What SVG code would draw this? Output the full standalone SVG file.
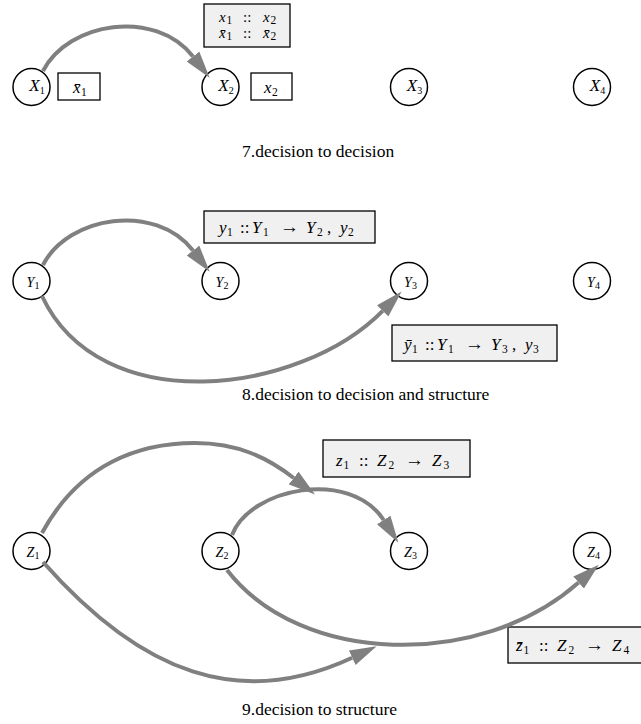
<svg xmlns="http://www.w3.org/2000/svg" width="641" height="724" viewBox="0 0 641 724">
<style>
.node circle{fill:#fff;stroke:#000;stroke-width:1.5}
.nl{font-family:"Liberation Serif","DejaVu Serif",serif;font-style:italic;fill:#000}
.nx{font-size:17px}
.ny{font-size:14px}
.ns{font-style:normal;font-size:10px}
.edge{fill:none;stroke:#808080;stroke-width:4;marker-end:url(#ah)}
.box{fill:#f0f0f0;stroke:#000;stroke-width:1.3}
.wbox{fill:#fff;stroke:#000;stroke-width:1.3}
.m{font-family:"Liberation Serif","DejaVu Serif",serif;font-size:17px;fill:#000}
.t{font-size:15px}
.i{font-style:italic}
.s{font-size:11.5px;font-style:normal}
.ar{font-size:19px}
.cap{font-family:"Liberation Serif","DejaVu Serif",serif;font-size:17.5px;fill:#000}
</style>
<defs>
<marker id="ah" viewBox="0 0 27 16" refX="0" refY="8" markerWidth="27" markerHeight="16" markerUnits="userSpaceOnUse" orient="auto">
<path d="M0,0 L27,8 L0,16 z" fill="#808080"/>
</marker>
</defs>

<!-- Row 7 -->
<g id="X1" class="node"><circle cx="31.5" cy="87" r="18.5"/><text class="nl nx" x="37" y="91" text-anchor="middle">X<tspan class="ns" dy="3">1</tspan></text></g>
<g id="X2" class="node"><circle cx="220.5" cy="87" r="18.5"/><text class="nl nx" x="226" y="91" text-anchor="middle">X<tspan class="ns" dy="3">2</tspan></text></g>
<g id="X3" class="node"><circle cx="409" cy="87" r="18.5"/><text class="nl nx" x="414.5" y="91" text-anchor="middle">X<tspan class="ns" dy="3">3</tspan></text></g>
<g id="X4" class="node"><circle cx="592" cy="87" r="18.5"/><text class="nl nx" x="597.5" y="91" text-anchor="middle">X<tspan class="ns" dy="3">4</tspan></text></g>

<g id="boxX1">
<rect class="wbox" x="58" y="73" width="42" height="27"/>
<text class="m" y="93"><tspan class="i" x="73">x̄</tspan><tspan class="s" x="81" dy="3">1</tspan></text>
</g>
<g id="boxX2">
<rect class="wbox" x="251" y="73" width="41" height="27"/>
<text class="m" y="93"><tspan class="i" x="264">x</tspan><tspan class="s" x="272" dy="3">2</tspan></text>
</g>
<g id="boxX12">
<rect class="box" x="204" y="4" width="86" height="43"/>
<text class="m t" y="22"><tspan class="i" x="219">x</tspan><tspan class="s" x="226.5" dy="2">1</tspan><tspan x="243" dy="-2">::</tspan><tspan class="i" x="263">x</tspan><tspan class="s" x="270.5" dy="2">2</tspan></text>
<text class="m t" y="38"><tspan class="i" x="219">x̄</tspan><tspan class="s" x="226.5" dy="2">1</tspan><tspan x="243" dy="-2">::</tspan><tspan class="i" x="263">x̄</tspan><tspan class="s" x="270.5" dy="2">2</tspan></text>
</g>
<text class="cap" x="242" y="157">7.decision to decision</text>

<!-- Row 8 -->
<g id="Y1" class="node"><circle cx="31.5" cy="281" r="18.5"/><text class="nl ny" x="33" y="287" text-anchor="middle">Y<tspan class="ns" dy="2">1</tspan></text></g>
<g id="Y2" class="node"><circle cx="220.5" cy="281" r="18.5"/><text class="nl ny" x="222" y="287" text-anchor="middle">Y<tspan class="ns" dy="2">2</tspan></text></g>
<g id="Y3" class="node"><circle cx="409" cy="281" r="18.5"/><text class="nl ny" x="410.5" y="287" text-anchor="middle">Y<tspan class="ns" dy="2">3</tspan></text></g>
<g id="Y4" class="node"><circle cx="592" cy="281" r="18.5"/><text class="nl ny" x="593.5" y="287" text-anchor="middle">Y<tspan class="ns" dy="2">4</tspan></text></g>

<g id="boxY12">
<rect class="box" x="204" y="211" width="171" height="32"/>
<text class="m" y="233"><tspan class="i" x="219">y</tspan><tspan class="s" x="227" dy="3">1</tspan><tspan x="240" dy="-3">::</tspan><tspan class="i" x="252">Y</tspan><tspan class="s" x="263" dy="3">1</tspan><tspan class="ar" x="280" dy="-3">→</tspan><tspan class="i" x="306">Y</tspan><tspan class="s" x="317" dy="3">2</tspan><tspan x="327" dy="-3">,</tspan><tspan class="i" x="340">y</tspan><tspan class="s" x="348" dy="3">2</tspan></text>
</g>
<g id="boxY13">
<rect class="box" x="392" y="325" width="165" height="36"/>
<text class="m" y="350"><tspan class="i" x="404">ȳ</tspan><tspan class="s" x="412" dy="3">1</tspan><tspan x="425" dy="-3">::</tspan><tspan class="i" x="437">Y</tspan><tspan class="s" x="448" dy="3">1</tspan><tspan class="ar" x="465" dy="-3">→</tspan><tspan class="i" x="491">Y</tspan><tspan class="s" x="502" dy="3">3</tspan><tspan x="512" dy="-3">,</tspan><tspan class="i" x="525">y</tspan><tspan class="s" x="533" dy="3">3</tspan></text>
</g>
<text class="cap" x="242" y="400">8.decision to decision and structure</text>

<!-- Row 9 -->
<g id="Z1" class="node"><circle cx="31.5" cy="551" r="18.5"/><text class="nl ny" x="33" y="557" text-anchor="middle">Z<tspan class="ns" dy="2">1</tspan></text></g>
<g id="Z2" class="node"><circle cx="220.5" cy="551" r="18.5"/><text class="nl ny" x="222" y="557" text-anchor="middle">Z<tspan class="ns" dy="2">2</tspan></text></g>
<g id="Z3" class="node"><circle cx="409" cy="551" r="18.5"/><text class="nl ny" x="410.5" y="557" text-anchor="middle">Z<tspan class="ns" dy="2">3</tspan></text></g>
<g id="Z4" class="node"><circle cx="592" cy="551" r="18.5"/><text class="nl ny" x="593.5" y="557" text-anchor="middle">Z<tspan class="ns" dy="2">4</tspan></text></g>

<g id="boxZ23">
<rect class="box" x="323" y="440" width="147" height="37"/>
<text class="m" y="466"><tspan class="i" x="336">z</tspan><tspan class="s" x="343.5" dy="3">1</tspan><tspan x="359" dy="-3">::</tspan><tspan class="i" x="377">Z</tspan><tspan class="s" x="388.5" dy="3">2</tspan><tspan class="ar" x="405" dy="-3">→</tspan><tspan class="i" x="432">Z</tspan><tspan class="s" x="443.5" dy="3">3</tspan></text>
</g>
<g id="boxZ24">
<rect class="box" x="508" y="627" width="150" height="36"/>
<text class="m" y="651"><tspan class="i" x="516">z̄</tspan><tspan class="s" x="523.5" dy="3">1</tspan><tspan x="539" dy="-3">::</tspan><tspan class="i" x="557">Z</tspan><tspan class="s" x="568.5" dy="3">2</tspan><tspan class="ar" x="585" dy="-3">→</tspan><tspan class="i" x="612">Z</tspan><tspan class="s" x="623.5" dy="3">4</tspan></text>
</g>
<text class="cap" x="242" y="715">9.decision to structure</text>

<g id="connectors">
<path class="edge" d="M43,71 C68,22 155,8 193,56.5"/>
<path class="edge" d="M43,265 C68,216 155,202 193,250.5"/>
<path class="edge" d="M42,296 C100,420 300,395 382.7,310.8"/>
<path class="edge" d="M42,533 C80,463 140,443 195,443 C238,443 268,458 293.7,478"/>
<path class="edge" d="M232,535 C250,488 350,468 383.7,520"/>
<path class="edge" d="M227,570 C300,665 480,670 578.6,582.6"/>
<path class="edge" d="M43,562 C142,674 240,710 352.2,657.7"/>
</g>
</svg>
